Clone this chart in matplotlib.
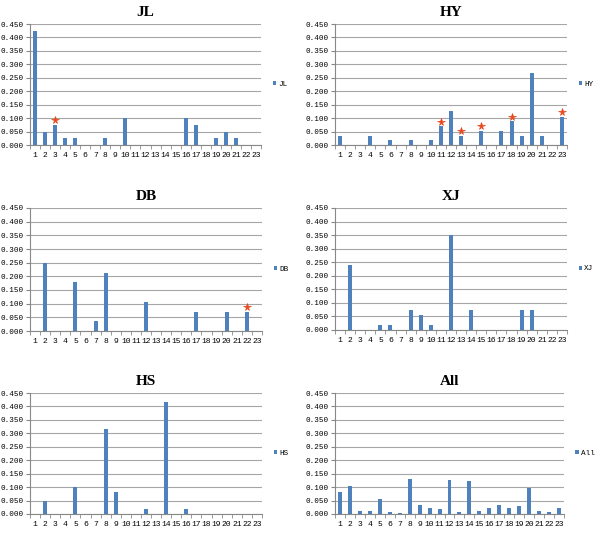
import numpy as np
import matplotlib
matplotlib.use("Agg")
import matplotlib.pyplot as plt

cats = list(range(1, 24))

jl = [0.425, 0.05, 0.075, 0.025, 0.025, 0, 0, 0.025, 0, 0.1, 0, 0, 0, 0, 0,
      0.1, 0.075, 0, 0.025, 0.05, 0.025, 0, 0]
hy = [0.035, 0, 0, 0.035, 0, 0.018, 0, 0.018, 0, 0.018, 0.07, 0.125, 0.035, 0,
      0.053, 0, 0.053, 0.088, 0.035, 0.268, 0.035, 0, 0.105]
db = [0, 0.25, 0, 0, 0.178, 0, 0.036, 0.214, 0, 0, 0, 0.107, 0, 0, 0, 0,
      0.071, 0, 0, 0.071, 0, 0.071, 0]
xj = [0, 0.241, 0, 0, 0.019, 0.019, 0, 0.074, 0.056, 0.019, 0, 0.352, 0, 0.074,
      0, 0, 0, 0, 0.074, 0.074, 0, 0, 0]
hs = [0, 0.05, 0, 0, 0.1, 0, 0, 0.317, 0.083, 0, 0, 0.017, 0, 0.417, 0, 0.017,
      0, 0, 0, 0, 0, 0, 0]
all_ = [0.08, 0.105, 0.012, 0.012, 0.055, 0.006, 0.003, 0.13, 0.033, 0.024,
        0.017, 0.128, 0.006, 0.123, 0.012, 0.021, 0.033, 0.021, 0.028, 0.097,
        0.012, 0.006, 0.024]

# starred categories per panel
stars = {"JL": [3], "HY": [11, 13, 15, 18, 23], "DB": [22], "XJ": [], "HS": [], "All": []}

panels = [("JL", jl), ("HY", hy), ("DB", db), ("XJ", xj), ("HS", hs), ("All", all_)]

W, H = 600, 541
# plot-area boxes in pixels: left, right, top, bottom
boxes = [(30, 261, 24, 145), (335, 567, 24, 145),
         (30, 262, 208, 331), (335, 567, 208, 330),
         (30, 262, 393, 514), (335, 564, 393, 514)]

blue = "#4F81BD"
star_col = "#E8471A"
mono = "Liberation Mono"

fig = plt.figure(figsize=(6, 5.41), dpi=100)

for (name, vals), (l, r, t, b) in zip(panels, boxes):
    ax = fig.add_axes([l / W, 1 - b / H, (r - l) / W, (b - t) / H])
    ax.bar(cats, vals, width=0.4, color=blue, label=name, zorder=3)
    for c in stars[name]:
        ax.plot(c, vals[c - 1] + 0.017, marker="*", color=star_col, ms=5.5,
                mec=star_col, mew=0.5, zorder=4, clip_on=False)
    ax.set_xlim(0.5, 23.5)
    ax.set_ylim(0, 0.45)
    yt = np.arange(0, 0.451, 0.05)
    ax.set_yticks(yt)
    ax.set_yticklabels(["%.3f" % v for v in yt], fontsize=5.5, family=mono)
    ax.set_xticks(cats)
    ax.set_xticklabels([str(c) for c in cats], fontsize=5.8, family=mono)
    ax.set_xticks(np.arange(0.5, 23.6, 1), minor=True)
    ax.tick_params(axis="x", which="major", length=0, pad=5)
    ax.tick_params(axis="x", which="minor", length=3, color="#888888", direction="out")
    ax.tick_params(axis="y", length=3, color="#888888", pad=1.5)
    ax.grid(axis="y", color="#A6A6A6", lw=0.8, zorder=0)
    for s in ["top", "right"]:
        ax.spines[s].set_visible(False)
    ax.spines["left"].set_color("#888888")
    ax.spines["bottom"].set_color("#888888")
    ax.set_title(name, fontsize=11, fontweight="bold", family="Liberation Serif", pad=6)
    ax.legend(loc="center left", bbox_to_anchor=(1.03, 0.5), frameon=False,
              handlelength=0.45, handleheight=0.45, handletextpad=0.25,
              borderaxespad=0.2, prop={"family": mono, "size": 5.5})

fig.savefig("out.png", dpi=100)
